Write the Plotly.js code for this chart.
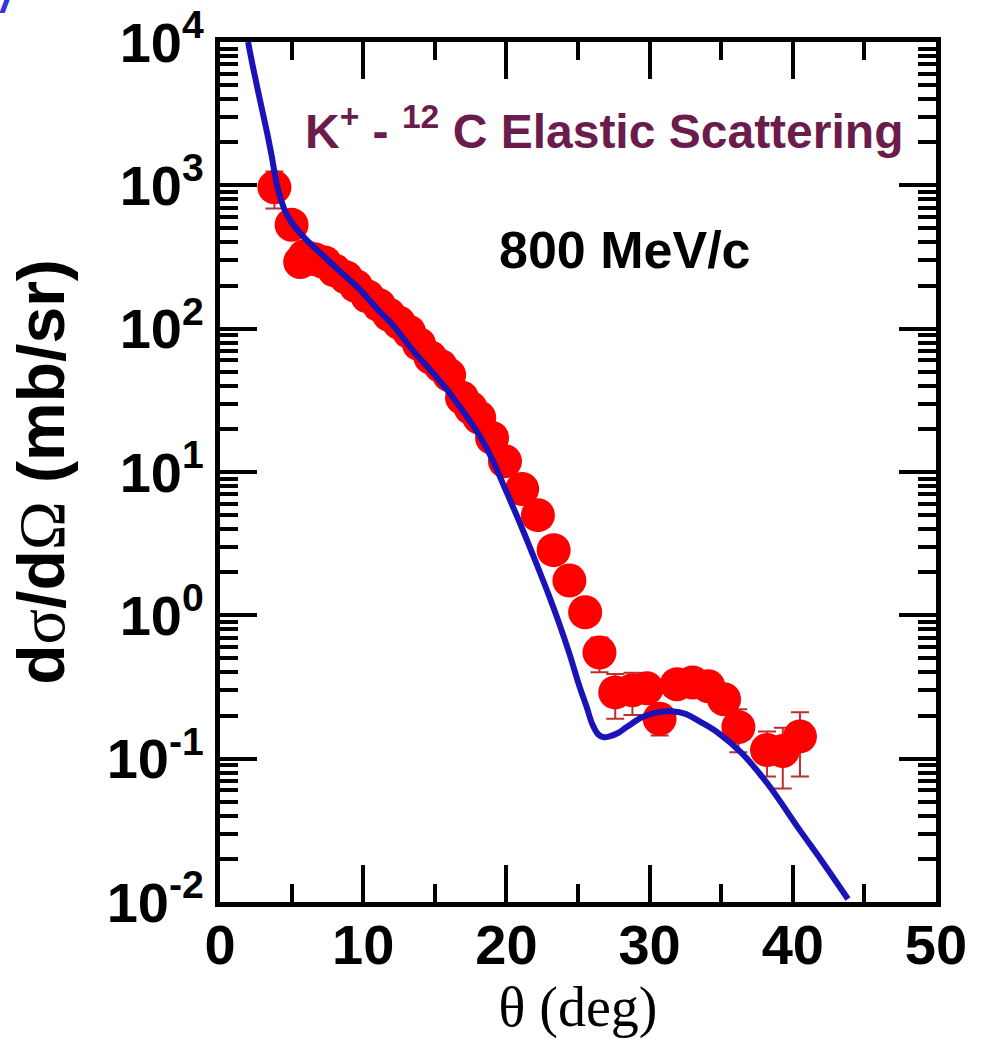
<!DOCTYPE html>
<html>
<head>
<meta charset="utf-8">
<script src="https://cdn.plot.ly/plotly-3.0.1.min.js"></script>
<style>html,body{margin:0;padding:0;background:#fff;}</style>
</head>
<body>
<div id="chart" style="width:984px;height:1056px;"></div>
<script>
// Experimental data: K+ - 12C elastic scattering at 800 MeV/c
const dataTheta = [3.8, 5.0, 5.6, 5.9, 6.6, 7.3, 8.0, 8.8, 9.5, 10.3, 11.1, 11.8, 12.5, 13.2, 13.9, 14.7, 15.4, 16.0, 16.9, 17.5, 18.1, 19.0, 19.9, 21.1, 22.2, 23.3, 24.4, 25.5, 26.5, 27.6, 28.8, 29.8, 30.7, 31.9, 33.0, 34.1, 35.2, 36.2, 38.2, 39.3, 40.5];
const dataXsec  = [970, 530, 292, 320, 305, 290, 255, 228, 198, 168, 146, 125, 110, 95, 78, 63, 55, 47.5, 33, 28, 24, 17.3, 11.9, 7.6, 5.0, 2.85, 1.75, 1.05, 0.55, 0.29, 0.30, 0.31, 0.19, 0.33, 0.34, 0.32, 0.26, 0.166, 0.115, 0.113, 0.143];
const dataErr   = [280, 30, 17, 18, 16, 15, 13, 12, 10, 9, 8, 7, 6, 5, 4, 3.5, 3, 2.6, 2, 1.6, 1.4, 1.0, 0.7, 0.45, 0.3, 0.17, 0.1, 0.07, 0.15, 0.10, 0.098, 0.06, 0.045, 0.05, 0.05, 0.05, 0.05, 0.055, 0.04, 0.051, 0.068];

// Theoretical curve
const curveTheta = [1.96, 2.3, 2.8, 3.3, 3.6, 4.0, 4.5, 5.0, 5.9, 7.3, 8.5, 9.6, 11.2, 12.0, 13.5, 14.8, 15.9, 17.0, 18.2, 19.0, 19.8, 21.0, 22.1, 23.0, 23.7, 24.4, 25.1, 25.6, 26.0, 26.4, 26.8, 27.2, 27.8, 28.4, 29.5, 30.7, 31.5, 32.4, 33.7, 34.8, 36.4, 38.2, 40.5, 42.0, 43.85];
const curveXsec  = [10000, 6700, 3900, 2300, 1620, 980, 680, 550, 430, 316, 245, 195, 130, 108, 70, 50, 37, 26.3, 17.4, 12.3, 8.1, 4.27, 2.29, 1.35, 0.87, 0.54, 0.32, 0.23, 0.174, 0.148, 0.141, 0.143, 0.151, 0.166, 0.195, 0.212, 0.214, 0.207, 0.177, 0.151, 0.11, 0.0676, 0.0316, 0.0195, 0.0105];

// Axis ticks
const xTickVals = [0, 10, 20, 30, 40, 50];
const xMinorVals = [5, 15, 25, 35, 45];
const yTickVals = [0.01, 0.1, 1, 10, 100, 1000, 10000];
const yTickText = ['10<sup>-2</sup>', '10<sup>-1</sup>', '10<sup>0</sup>', '10<sup>1</sup>', '10<sup>2</sup>', '10<sup>3</sup>', '10<sup>4</sup>'];
const yMinorMantissa = [2, 3, 4, 5, 6, 7, 8, 9];
const yDecades = [0.01, 0.1, 1, 10, 100, 1000];

const yMinorVals = [];
yDecades.forEach(d => yMinorMantissa.forEach(m => yMinorVals.push(+(m * d).toPrecision(3))));

const sansBold = {family: 'Liberation Sans, Arial, sans-serif', size: 56, color: '#000', weight: 'bold'};

const traces = [
  {
    x: dataTheta, y: dataXsec, type: 'scatter', mode: 'markers',
    marker: {color: '#ff0000', size: 34, line: {width: 0}},
    error_y: {type: 'data', array: dataErr, visible: true, color: '#b83030', thickness: 2, width: 9},
    showlegend: false, cliponaxis: true
  },
  {
    x: curveTheta, y: curveXsec, type: 'scatter', mode: 'lines',
    line: {color: '#1a14b8', width: 6, shape: 'spline', smoothing: 1.0},
    showlegend: false
  }
];

const layout = {
  width: 984, height: 1056,
  margin: {l: 220, r: 48, t: 42, b: 154},
  paper_bgcolor: '#fff', plot_bgcolor: '#fff',
  showlegend: false,
  xaxis: {
    range: [0, 50], tickmode: 'array', tickvals: xTickVals, ticktext: xTickVals.map(String),
    ticks: 'inside', ticklen: 37, tickwidth: 4, tickcolor: '#000',
    showline: true, linewidth: 5, linecolor: '#000', mirror: 'ticks',
    showgrid: false, zeroline: false,
    tickfont: sansBold, ticklabelstandoff: -10,
    minor: {tickmode: 'array', tickvals: xMinorVals, ticks: 'inside', ticklen: 18, tickwidth: 4, tickcolor: '#000', showgrid: false},
    title: {text: 'θ (deg)', font: {family: 'Liberation Serif, Times New Roman, serif', size: 56, color: '#000'}, standoff: 6}
  },
  yaxis: {
    type: 'log', range: [-2, 4], tickmode: 'array', tickvals: yTickVals, ticktext: yTickText,
    ticks: 'inside', ticklen: 37, tickwidth: 4, tickcolor: '#000',
    showline: true, linewidth: 5, linecolor: '#000', mirror: 'ticks',
    showgrid: false, zeroline: false,
    tickfont: sansBold,
    minor: {tickmode: 'array', tickvals: yMinorVals, ticks: 'inside', ticklen: 18, tickwidth: 4, tickcolor: '#000', showgrid: false},
    title: {
      text: 'd<span style="font-family:Liberation Serif;font-weight:normal">σ</span>/d<span style="font-family:Liberation Serif;font-weight:normal">Ω</span> (mb/sr)',
      font: {family: 'Liberation Sans, Arial, sans-serif', size: 66, color: '#000', weight: 'bold'},
      standoff: 22
    }
  },
  annotations: [
    {
      text: 'K<sup>+</sup> - <sup>12</sup> C Elastic Scattering',
      xref: 'paper', yref: 'paper', x: 0.536, y: 0.90, xanchor: 'center', yanchor: 'middle',
      showarrow: false,
      font: {family: 'Liberation Sans, Arial, sans-serif', size: 48, color: '#6b1c4c', weight: 'bold'}
    },
    {
      text: '800 MeV/c',
      xref: 'paper', yref: 'paper', x: 0.566, y: 0.758, xanchor: 'center', yanchor: 'middle',
      showarrow: false,
      font: {family: 'Liberation Sans, Arial, sans-serif', size: 52, color: '#000', weight: 'bold'}
    },
    {
      text: '<i>/</i>',
      xref: 'paper', yref: 'paper', x: -0.295, y: 1.022, xanchor: 'center', yanchor: 'bottom',
      showarrow: false,
      font: {family: 'Liberation Sans, Arial, sans-serif', size: 44, color: '#3434d8', weight: 'bold'}
    }
  ]
};

Plotly.newPlot('chart', traces, layout, {staticPlot: true, displayModeBar: false});
</script>
</body>
</html>
